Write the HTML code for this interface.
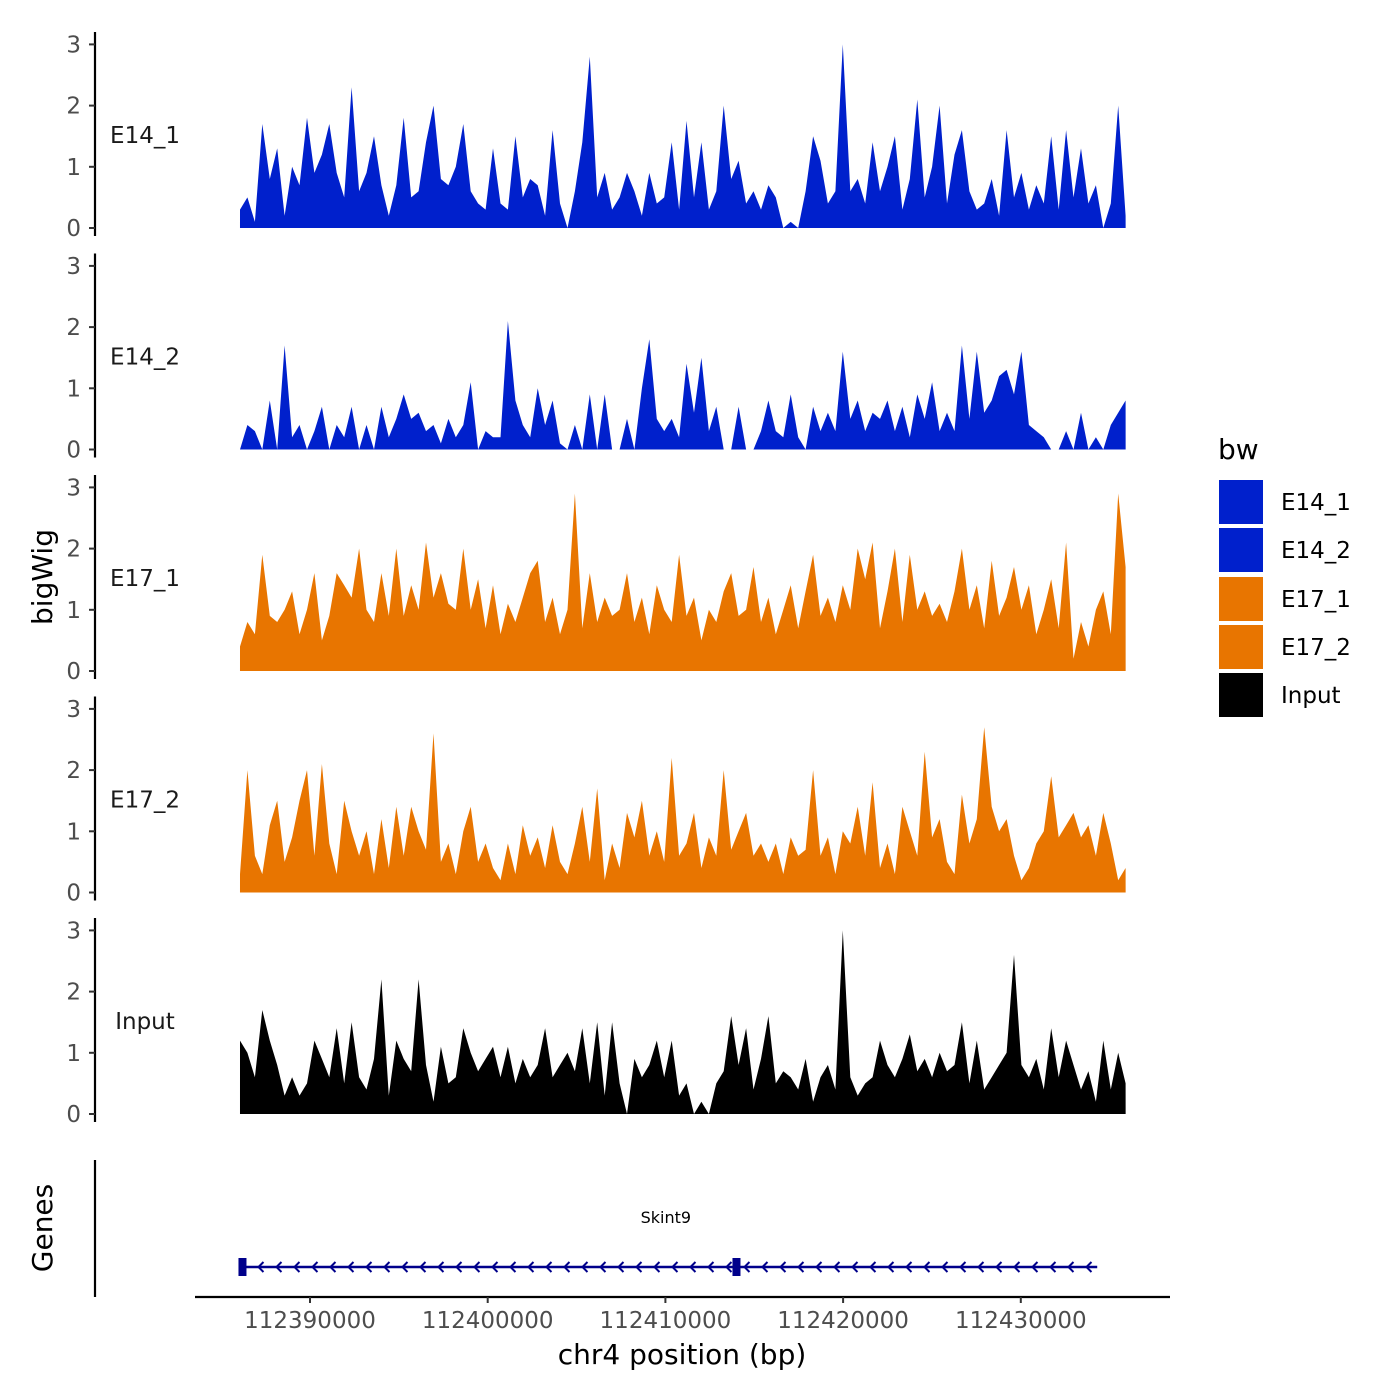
<!DOCTYPE html>
<html><head><meta charset="utf-8"><style>
html,body{margin:0;padding:0;background:#fff}
svg{display:block;font-family:"DejaVu Sans","Liberation Sans",sans-serif}
</style></head><body>
<svg id="chart" width="1400" height="1400" viewBox="0 0 1400 1400"></svg>
<script>
const trackNames = ["E14_1","E14_2","E17_1","E17_2","Input"];
const trackColors = ["#0020CC","#0020CC","#E87500","#E87500","#000000"];
const yTicks = [0,1,2,3];
const xTickValues = [112390000,112400000,112410000,112420000,112430000];
const e14_1 = [0.3,0.5,0.1,1.7,0.8,1.3,0.2,1.0,0.7,1.8,0.9,1.2,1.7,0.9,0.5,2.3,0.6,0.9,1.5,0.7,0.2,0.7,1.8,0.5,0.6,1.4,2.0,0.8,0.7,1.0,1.7,0.6,0.4,0.3,1.3,0.4,0.3,1.5,0.5,0.8,0.7,0.2,1.6,0.4,0.0,0.6,1.4,2.8,0.5,0.9,0.3,0.5,0.9,0.6,0.2,0.9,0.4,0.5,1.4,0.3,1.75,0.5,1.4,0.3,0.6,2.0,0.8,1.1,0.4,0.6,0.3,0.7,0.5,0.0,0.1,0.0,0.6,1.5,1.1,0.4,0.6,3.0,0.6,0.8,0.4,1.4,0.6,1.0,1.5,0.3,0.8,2.1,0.5,1.0,2.0,0.4,1.2,1.6,0.6,0.3,0.4,0.8,0.2,1.6,0.5,0.9,0.3,0.7,0.4,1.5,0.3,1.6,0.5,1.3,0.4,0.7,0.0,0.4,2.0,0.2];
const e14_2 = [0,0.4,0.3,0,0.8,0,1.7,0.2,0.4,0,0.3,0.7,0,0.4,0.2,0.7,0,0.4,0,0.7,0.2,0.5,0.9,0.5,0.6,0.3,0.4,0.1,0.5,0.2,0.4,1.1,0,0.3,0.2,0.2,2.1,0.8,0.4,0.2,1.0,0.4,0.8,0.1,0,0.4,0,0.9,0,0.9,0,0,0.5,0,1.0,1.8,0.5,0.3,0.5,0.2,1.4,0.6,1.5,0.3,0.7,0,0,0.7,0,0,0.3,0.8,0.3,0.2,0.9,0.2,0,0.7,0.3,0.6,0.3,1.6,0.5,0.8,0.3,0.6,0.5,0.8,0.3,0.7,0.2,0.9,0.5,1.1,0.3,0.6,0.3,1.7,0.5,1.6,0.6,0.8,1.2,1.3,0.9,1.6,0.4,0.3,0.2,0,0,0.3,0,0.6,0,0.2,0,0.4,0.6,0.8];
const e17_1 = [0.4,0.8,0.6,1.9,0.9,0.8,1.0,1.3,0.6,1.0,1.6,0.5,0.9,1.6,1.4,1.2,2.0,1.0,0.8,1.6,0.9,2.0,0.9,1.4,1.0,2.1,1.2,1.6,1.1,1.0,2.0,1.0,1.5,0.7,1.4,0.6,1.1,0.8,1.2,1.6,1.8,0.8,1.2,0.6,1.0,2.9,0.7,1.6,0.8,1.2,0.9,1.0,1.6,0.8,1.2,0.6,1.4,1.0,0.8,1.9,0.9,1.2,0.5,1.0,0.8,1.3,1.6,0.9,1.0,1.7,0.8,1.2,0.6,1.0,1.4,0.7,1.3,1.9,0.9,1.2,0.8,1.4,1.0,2.0,1.5,2.1,0.7,1.3,2.0,0.8,1.9,1.0,1.3,0.9,1.1,0.8,1.3,2.0,1.0,1.4,0.7,1.8,0.9,1.2,1.7,1.0,1.4,0.6,1.0,1.5,0.7,2.1,0.2,0.8,0.4,1.0,1.3,0.6,2.9,1.7];
const e17_2 = [0.3,2.0,0.6,0.3,1.1,1.5,0.5,0.9,1.5,2.0,0.6,2.1,0.8,0.3,1.5,1.0,0.6,1.0,0.3,1.2,0.4,1.4,0.6,1.4,1.0,0.7,2.6,0.5,0.8,0.3,1.0,1.4,0.5,0.8,0.4,0.2,0.8,0.3,1.1,0.6,0.9,0.4,1.1,0.5,0.3,0.8,1.4,0.5,1.7,0.2,0.8,0.4,1.3,0.9,1.5,0.6,1.0,0.5,2.2,0.6,0.8,1.3,0.4,0.9,0.6,2.0,0.7,1.0,1.3,0.6,0.8,0.5,0.8,0.3,0.9,0.6,0.7,2.0,0.6,0.9,0.3,1.0,0.8,1.4,0.6,1.8,0.4,0.8,0.3,1.4,1.0,0.6,2.3,0.9,1.2,0.5,0.3,1.6,0.8,1.2,2.7,1.4,1.0,1.2,0.6,0.2,0.4,0.8,1.0,1.9,0.9,1.1,1.3,0.9,1.1,0.6,1.3,0.8,0.2,0.4];
const input = [1.2,1.0,0.6,1.7,1.2,0.8,0.3,0.6,0.3,0.5,1.2,0.9,0.6,1.4,0.5,1.5,0.6,0.4,0.9,2.2,0.3,1.2,0.9,0.7,2.2,0.8,0.2,1.1,0.5,0.6,1.4,1.0,0.7,0.9,1.1,0.6,1.1,0.5,0.9,0.6,0.8,1.4,0.6,0.8,1.0,0.7,1.4,0.5,1.5,0.3,1.5,0.5,0.0,0.9,0.6,0.8,1.2,0.6,1.2,0.3,0.5,0.0,0.2,0.0,0.5,0.7,1.6,0.8,1.4,0.4,0.9,1.6,0.5,0.7,0.6,0.4,0.9,0.2,0.6,0.8,0.4,3.0,0.6,0.3,0.5,0.6,1.2,0.8,0.6,0.9,1.3,0.7,0.9,0.6,1.0,0.7,0.8,1.5,0.5,1.2,0.4,0.6,0.8,1.0,2.6,0.8,0.6,0.9,0.4,1.4,0.6,1.2,0.8,0.4,0.7,0.2,1.2,0.4,1.0,0.5];
const trackData = [e14_1,e14_2,e17_1,e17_2,input];
const dataStart = 112386060, dataEnd = 112435900;
const geneName = "Skint9";
const geneStart = 112386200, geneEnd = 112434300;
const exonStarts = [112386200, 112414000];

const NS = "http://www.w3.org/2000/svg";
const svg = document.getElementById('chart');
function mk(tag, attrs, parent){const e=document.createElementNS(NS,tag);for(const k in attrs)e.setAttribute(k,attrs[k]);(parent||svg).appendChild(e);return e;}
const xPx = v => 310 + (v-112390000)/10000*177.7;
const trackTop0 = 228, trackGap = 221.5, unitPx = 61.2;
function yPx(t,v){return trackTop0 + t*trackGap - v*unitPx;}

trackNames.forEach((name,t)=>{
  const g = mk('g',{});
  
  
  const base = yPx(t,0);
  mk('line',{x1:95,x2:95,y1:base-196,y2:base+8,stroke:'#000','stroke-width':2.2},g);
  yTicks.forEach(v=>{
    const y=yPx(t,v);
    mk('line',{x1:89,x2:95,y1:y,y2:y,stroke:'#333','stroke-width':2},g);
    const tx=mk('text',{x:81,y:y+8,'text-anchor':'end','font-size':23,fill:'#4d4d4d'},g);tx.textContent=v;
  });
  const lab=mk('text',{x:145,y:base-85,'text-anchor':'middle','font-size':23,fill:'#1a1a1a'},g);lab.textContent=name;
  const d=trackData[t], n=d.length;
  let p='M'+xPx(dataStart)+','+base;
  d.forEach((v,i)=>{const x=xPx(dataStart+(dataEnd-dataStart)*i/(n-1));p+=' L'+x.toFixed(1)+','+yPx(t,v).toFixed(1);});
  p+=' L'+xPx(dataEnd)+','+base+' Z';
  const area=mk('path',{d:p,fill:trackColors[t],stroke:'none'},g);
  
  
});

const gg=mk('g',{});


mk('line',{x1:95,x2:95,y1:1160,y2:1297,stroke:'#000','stroke-width':2.2},gg);
const gx1=xPx(geneStart), gx2=xPx(geneEnd);
mk('line',{x1:gx1,x2:gx2,y1:1267,y2:1267,stroke:'#00008B','stroke-width':2.5},gg);
for(let x=gx1+16;x<gx2;x+=18){mk('polyline',{points:(x+5)+',1262 '+x+',1267 '+(x+5)+',1272',fill:'none',stroke:'#00008B','stroke-width':2},gg);}
exonStarts.forEach(s=>{const ex=mk('rect',{x:xPx(s)-4,y:1258,width:8,height:18,fill:'#00008B'},gg);});
const gl=mk('text',{x:(gx1+gx2)/2-4,y:1223,'text-anchor':'middle','font-size':16,fill:'#000'},gg);gl.textContent=geneName;

const xa=mk('g',{});


mk('line',{x1:195,x2:1170,y1:1297,y2:1297,stroke:'#000','stroke-width':2.2},xa);
xTickValues.forEach(v=>{const x=xPx(v);mk('line',{x1:x,x2:x,y1:1297,y2:1303,stroke:'#333','stroke-width':2},xa);
  const t=mk('text',{x:x,y:1328,'text-anchor':'middle','font-size':23,fill:'#4d4d4d'},xa);t.textContent=v;});
</script>
<div style="position:absolute;left:0;top:0;width:1400px;height:1400px;pointer-events:none">
<svg width="1400" height="1400" style="position:absolute;left:0;top:0">
<text x="682" y="1364" text-anchor="middle" font-size="28" fill="#000">chr4 position (bp)</text>
<text x="0" y="0" transform="translate(52,577) rotate(-90)" text-anchor="middle" font-size="28" fill="#000">bigWig</text>
<text x="0" y="0" transform="translate(52,1228) rotate(-90)" text-anchor="middle" font-size="28" fill="#000">Genes</text>
<g>
<text x="1218" y="459" font-size="28" fill="#000">bw</text>
<rect x="1219" y="480" width="44" height="44" fill="#0020CC"/>
<text x="1281" y="510" font-size="23" fill="#000">E14_1</text>
<rect x="1219" y="528" width="44" height="44" fill="#0020CC"/>
<text x="1281" y="558" font-size="23" fill="#000">E14_2</text>
<rect x="1219" y="577" width="44" height="44" fill="#E87500"/>
<text x="1281" y="607" font-size="23" fill="#000">E17_1</text>
<rect x="1219" y="625" width="44" height="44" fill="#E87500"/>
<text x="1281" y="655" font-size="23" fill="#000">E17_2</text>
<rect x="1219" y="673" width="44" height="44" fill="#000"/>
<text x="1281" y="703" font-size="23" fill="#000">Input</text>
</g>
</svg>
</div>
</body></html>
